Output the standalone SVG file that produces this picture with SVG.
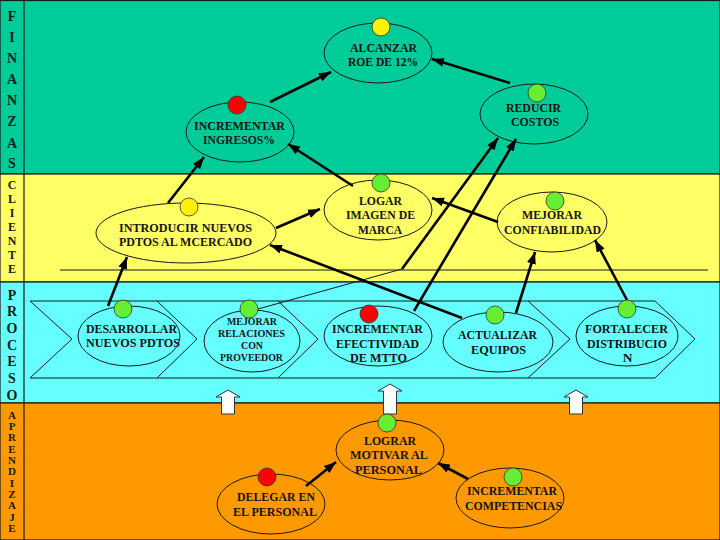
<svg xmlns="http://www.w3.org/2000/svg" width="720" height="540" viewBox="0 0 720 540">
<style>
.band{stroke:#1a1a1a;stroke-width:1.2}
.lbl{font-family:"Liberation Serif",serif;font-weight:bold;fill:#1a1a1a;text-anchor:middle}
.t{font-family:"Liberation Serif",serif;font-weight:bold;font-size:13.5px;fill:#141414;text-anchor:middle}
.ts{font-family:"Liberation Serif",serif;font-weight:bold;font-size:10px;fill:#141414;text-anchor:middle}
.el{stroke:#1a1a1a;stroke-width:1}
.dot{stroke:#333;stroke-width:0.8}
.red{fill:#FF0000}.yel{fill:#FFF200}.grn{fill:#66EE33}
.thin{fill:none;stroke:#1a1a1a;stroke-width:1}
.con{fill:none;stroke:#000;stroke-width:2.6;marker-end:url(#ah)}
.blk{fill:#fff;stroke:#333;stroke-width:1}
</style>
<defs>
<marker id="ah" markerUnits="userSpaceOnUse" markerWidth="12" markerHeight="9" refX="12" refY="4.5" orient="auto">
<path d="M0,0 L12,4.5 L0,9 z" fill="#000"/>
</marker>
</defs>

<g id="bands">
<rect class="band" x="0" y="0.5" width="720" height="173.5" fill="#00CC99"/>
<rect class="band" x="0" y="174" width="720" height="108" fill="#FFFF66"/>
<rect class="band" x="0" y="282" width="720" height="121" fill="#66FFFF"/>
<rect class="band" x="0" y="403" width="720" height="137" fill="#FF9900"/>
<line x1="24" y1="0" x2="24" y2="540" stroke="#1a1a1a" stroke-width="1.2"/>
<line x1="60" y1="270" x2="708" y2="270" stroke="#1a1a1a" stroke-width="1"/>
</g>

<g id="labels" class="lbl">
<g font-size="14">
<text x="12" y="21">F</text><text x="12" y="42">I</text><text x="12" y="63">N</text><text x="12" y="84">A</text>
<text x="12" y="105">N</text><text x="12" y="126">Z</text><text x="12" y="148">A</text><text x="12" y="168">S</text>
</g>
<g font-size="12">
<text x="12" y="189">C</text><text x="12" y="203">L</text><text x="12" y="217">I</text><text x="12" y="231">E</text>
<text x="12" y="245">N</text><text x="12" y="259">T</text><text x="12" y="273">E</text>
</g>
<g font-size="14">
<text x="12" y="300">P</text><text x="12" y="316">R</text><text x="12" y="333">O</text><text x="12" y="350">C</text>
<text x="12" y="366">E</text><text x="12" y="383">S</text><text x="12" y="400">O</text>
</g>
<g font-size="11">
<text x="12" y="419">A</text><text x="12" y="430">P</text><text x="12" y="441">R</text><text x="12" y="453">E</text>
<text x="12" y="464">N</text><text x="12" y="475">D</text><text x="12" y="487">I</text><text x="12" y="498">Z</text>
<text x="12" y="509">A</text><text x="12" y="521">J</text><text x="12" y="532">E</text>
</g>
</g>

<g id="chevrons" class="thin">
<polygon points="30,301 655,301 695,339 655,378 30,378 72,339"/>
<polyline points="157,301 197,339 157,378"/>
<polyline points="278,301 318,339 278,378"/>
<polyline points="528,301 570,339 528,378"/>
</g>

<g id="up-arrows" class="blk">
<path d="M228,390 L240,397 L234.5,397 L234.5,414 L221.5,414 L221.5,397 L216,397 Z"/>
<path d="M390,384 L402,391 L396.5,391 L396.5,414 L383.5,414 L383.5,391 L378,391 Z"/>
<path d="M576,390 L588,397 L582.5,397 L582.5,414 L569.5,414 L569.5,397 L564,397 Z"/>
</g>

<g id="n-alcanzar">
<ellipse class="el" cx="378" cy="53" rx="54" ry="30" fill="#00CC99"/>
<circle class="dot yel" cx="381" cy="27" r="9"/>
<text class="t" x="383.5" y="52" textLength="67" lengthAdjust="spacingAndGlyphs">ALCANZAR</text>
<text class="t" x="383" y="66" textLength="70" lengthAdjust="spacingAndGlyphs">ROE DE 12%</text>
</g>

<g id="n-reducir">
<ellipse class="el" cx="534" cy="114" rx="54" ry="30" fill="#00CC99"/>
<circle class="dot grn" cx="537" cy="93" r="9"/>
<text class="t" x="533.5" y="112" textLength="55" lengthAdjust="spacingAndGlyphs">REDUCIR</text>
<text class="t" x="535" y="126" textLength="48" lengthAdjust="spacingAndGlyphs">COSTOS</text>
</g>

<g id="n-ingresos">
<ellipse class="el" cx="240" cy="132" rx="54" ry="30" fill="#00CC99"/>
<circle class="dot red" cx="237" cy="105" r="9"/>
<text class="t" x="239.5" y="130" textLength="91" lengthAdjust="spacingAndGlyphs">INCREMENTAR</text>
<text class="t" x="239" y="144" textLength="72" lengthAdjust="spacingAndGlyphs">INGRESOS%</text>
</g>

<g id="n-introducir">
<ellipse class="el" cx="186" cy="233" rx="90" ry="30" fill="#FFFF66"/>
<circle class="dot yel" cx="189" cy="207" r="9"/>
<text class="t" x="185.5" y="232" textLength="133" lengthAdjust="spacingAndGlyphs">INTRODUCIR NUEVOS</text>
<text class="t" x="185.5" y="246" textLength="133" lengthAdjust="spacingAndGlyphs">PDTOS AL MCERCADO</text>
</g>

<g id="n-imagen">
<ellipse class="el" cx="378" cy="210" rx="54" ry="30" fill="#FFFF66"/>
<circle class="dot grn" cx="381" cy="183" r="9"/>
<text class="t" x="380.5" y="205" textLength="43" lengthAdjust="spacingAndGlyphs">LOGAR</text>
<text class="t" x="380.5" y="219" textLength="69" lengthAdjust="spacingAndGlyphs">IMAGEN DE</text>
<text class="t" x="380" y="234" textLength="44" lengthAdjust="spacingAndGlyphs">MARCA</text>
</g>

<g id="n-confiabilidad">
<ellipse class="el" cx="552" cy="222" rx="55" ry="30" fill="#FFFF66"/>
<circle class="dot grn" cx="555" cy="201" r="9"/>
<text class="t" x="552" y="219" textLength="60" lengthAdjust="spacingAndGlyphs">MEJORAR</text>
<text class="t" x="552.5" y="234" textLength="97" lengthAdjust="spacingAndGlyphs">CONFIABILIDAD</text>
</g>

<g id="n-desarrollar">
<ellipse class="el" cx="129" cy="336" rx="51" ry="30" fill="#66FFFF"/>
<circle class="dot grn" cx="123" cy="309" r="9"/>
<text class="t" x="131.5" y="333" textLength="91" lengthAdjust="spacingAndGlyphs">DESARROLLAR</text>
<text class="t" x="133" y="347" textLength="94" lengthAdjust="spacingAndGlyphs">NUEVOS PDTOS</text>
</g>

<g id="n-proveedor">
<ellipse class="el" cx="252" cy="341" rx="48" ry="31" fill="#66FFFF"/>
<circle class="dot grn" cx="249" cy="309" r="9"/>
<text class="ts" x="252" y="325" textLength="50" lengthAdjust="spacingAndGlyphs">MEJORAR</text>
<text class="ts" x="251.5" y="337" textLength="67" lengthAdjust="spacingAndGlyphs">RELACIONES</text>
<text class="ts" x="252" y="349" textLength="22" lengthAdjust="spacingAndGlyphs">CON</text>
<text class="ts" x="251.5" y="361" textLength="63" lengthAdjust="spacingAndGlyphs">PROVEEDOR</text>
</g>

<g id="n-mtto">
<ellipse class="el" cx="378" cy="336" rx="54" ry="30" fill="#66FFFF"/>
<circle class="dot red" cx="369" cy="314" r="9"/>
<text class="t" x="377.5" y="333" textLength="91" lengthAdjust="spacingAndGlyphs">INCREMENTAR</text>
<text class="t" x="377.5" y="348" textLength="83" lengthAdjust="spacingAndGlyphs">EFECTIVIDAD</text>
<text class="t" x="378.5" y="362" textLength="57" lengthAdjust="spacingAndGlyphs">DE MTTO</text>
</g>

<g id="n-equipos">
<ellipse class="el" cx="498" cy="342" rx="55" ry="30" fill="#66FFFF"/>
<circle class="dot grn" cx="495" cy="315" r="9"/>
<text class="t" x="497.5" y="339" textLength="79" lengthAdjust="spacingAndGlyphs">ACTUALIZAR</text>
<text class="t" x="498.5" y="354" textLength="55" lengthAdjust="spacingAndGlyphs">EQUIPOS</text>
</g>

<g id="n-distribucion">
<ellipse class="el" cx="627" cy="336" rx="51" ry="30" fill="#66FFFF"/>
<circle class="dot grn" cx="627" cy="309" r="9"/>
<text class="t" x="626.5" y="333" textLength="83" lengthAdjust="spacingAndGlyphs">FORTALECER</text>
<text class="t" x="627" y="348" textLength="80" lengthAdjust="spacingAndGlyphs">DISTRIBUCIO</text>
<text class="t" x="627.5" y="362">N</text>
</g>

<g id="n-motivar">
<ellipse class="el" cx="390" cy="450" rx="54" ry="30" fill="#FF9900"/>
<circle class="dot grn" cx="387" cy="423" r="9"/>
<text class="t" x="390" y="445" textLength="52" lengthAdjust="spacingAndGlyphs">LOGRAR</text>
<text class="t" x="389" y="459" textLength="78" lengthAdjust="spacingAndGlyphs">MOTIVAR AL</text>
<text class="t" x="388.5" y="474" textLength="67" lengthAdjust="spacingAndGlyphs">PERSONAL</text>
</g>

<g id="n-delegar">
<ellipse class="el" cx="271" cy="504" rx="54" ry="30" fill="#FF9900"/>
<circle class="dot red" cx="267" cy="477" r="9"/>
<text class="t" x="276" y="501" textLength="78" lengthAdjust="spacingAndGlyphs">DELEGAR EN</text>
<text class="t" x="275" y="516" textLength="84" lengthAdjust="spacingAndGlyphs">EL PERSONAL</text>
</g>

<g id="n-competencias">
<ellipse class="el" cx="510" cy="498" rx="54" ry="30" fill="#FF9900"/>
<circle class="dot grn" cx="513" cy="477" r="9"/>
<text class="t" x="512" y="495" textLength="90" lengthAdjust="spacingAndGlyphs">INCREMENTAR</text>
<text class="t" x="513.5" y="510" textLength="97" lengthAdjust="spacingAndGlyphs">COMPETENCIAS</text>
</g>

<g id="connectors">
<line class="con" x1="270" y1="102" x2="331" y2="72"/>
<line class="con" x1="510" y1="83" x2="432" y2="59"/>
<line class="thin" x1="258" y1="309" x2="402" y2="269"/>
<line class="con" x1="402" y1="269" x2="498" y2="138"/>
<line class="con" x1="414" y1="311" x2="516" y2="139"/>
<line class="con" x1="168" y1="203" x2="204" y2="157"/>
<line class="con" x1="353" y1="186" x2="288" y2="144"/>
<line class="con" x1="276" y1="228" x2="320" y2="209"/>
<line class="con" x1="498" y1="222" x2="432" y2="198"/>
<line class="con" x1="462" y1="318" x2="270" y2="245"/>
<line class="con" x1="516" y1="313" x2="535" y2="252"/>
<line class="con" x1="627" y1="300" x2="595" y2="240"/>
<line class="con" x1="108" y1="306" x2="127" y2="257"/>
<line class="con" x1="306" y1="486" x2="336" y2="462"/>
<line class="con" x1="468" y1="479" x2="438" y2="463"/>
</g>
</svg>
